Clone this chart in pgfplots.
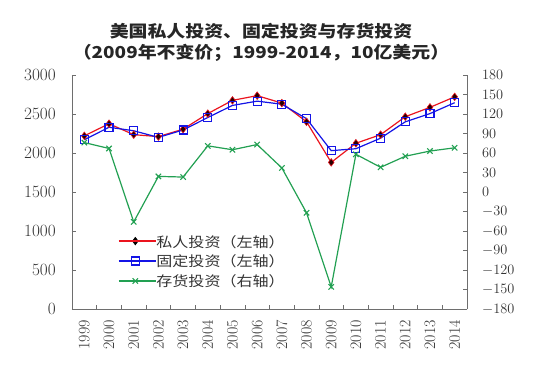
\documentclass[border=0pt]{standalone}
\usepackage{pgfplots}
\pgfplotsset{compat=1.18}
\usepackage{fontspec}
\newfontfamily\cjk{Noto Sans CJK SC}[FakeStretch=1.15]
\definecolor{cred}{RGB}{235,20,30}
\definecolor{cblue}{RGB}{20,20,230}
\definecolor{cgreen}{RGB}{34,160,82}
\definecolor{axgray}{RGB}{110,110,110}
\pgfplotstableread{
x red blue green
0 2220 2170 76
1 2375 2330 67
2 2235 2285 -46
3 2210 2200 24
4 2305 2295 23
5 2505 2455 71
6 2675 2610 65
7 2735 2665 73
8 2640 2625 37
9 2400 2440 -32
10 1880 2030 -146
11 2125 2055 58
12 2235 2190 38
13 2465 2400 55
14 2585 2505 63
15 2720 2645 68
}\datatable
\begin{document}
\begin{tikzpicture}
\useasboundingbox (-72bp,-68bp) rectangle (479bp,309bp);
\pgfplotsset{
  common/.style={
    width=395bp, height=234bp, scale only axis,
    xmin=-0.5, xmax=15.5,
    axis line style={draw=axgray, line width=0.6bp},
    tick style={draw=axgray, line width=0.6bp},
    tick align=inside,
    major tick length=4bp, minor tick length=4bp,
    ticklabel style={font=\fontsize{16}{16}\selectfont, text=black!80},
    clip=false,
  }
}
\begin{axis}[common,
  axis x line*=bottom, axis y line*=left,
  ymin=0, ymax=3000, ytick={0,500,...,3000},
  yticklabel style={inner sep=0pt},
  yticklabel shift=16bp,
  xtick={0,...,15},
  xticklabels={1999,2000,2001,2002,2003,2004,2005,2006,2007,2008,2009,2010,2011,2012,2013,2014},
  major x tick style={draw=none},
  minor xtick={0.5,1.5,...,14.5},
  xticklabel style={rotate=90, anchor=east, inner sep=0pt},
  xticklabel shift=11bp,
  scaled y ticks=false,
  y tick label style={/pgf/number format/1000 sep={}},
]
\addplot[cred, line width=1.2bp, mark=diamond*, mark size=3.8bp,
  mark options={draw=cred, fill=black!85!red, line width=0.6bp}] table[x=x,y=red]{\datatable};
\addplot[cblue, line width=1.2bp, mark=square, mark size=4bp,
  mark options={draw=cblue, line width=1.1bp}] table[x=x,y=blue]{\datatable};
\end{axis}
\begin{axis}[common,
  axis x line=none, axis y line*=right,
  ymin=-180, ymax=180, ytick={-180,-150,...,180},
  yticklabel style={inner sep=0pt, anchor=west, font=\fontsize{15}{15}\selectfont},
  yticklabel shift=15bp,
  legend style={at={(0.1165,0.205)}, anchor=west, draw=none, fill=none,
    inner sep=0pt, row sep=8bp,
    font=\cjk\fontsize{14}{14}\selectfont, text=black!80,
    nodes={inner sep=0pt, text depth=0pt}},
  legend cell align=left,
  legend image code/.code={
    \draw[#1, mark=none] (0bp,0bp) -- (33bp,0bp);
    \draw[#1] plot coordinates {(16.5bp,0bp)};
    \path (0bp,0bp) -- (37bp,0bp);
  },
]
\addlegendimage{cred, line width=1.2bp, mark=diamond*, mark size=3.8bp,
  mark options={draw=black, fill=black, line width=0.6bp}}
\addlegendentry{私人投资（左轴）}
\addlegendimage{cblue, line width=1.2bp, mark=square, mark size=4bp,
  mark options={draw=cblue, line width=1.1bp}}
\addlegendentry{固定投资（左轴）}
\addplot[cgreen, line width=1.2bp, mark=x, mark size=3.8bp,
  mark options={line width=1.1bp}] table[x=x,y=green]{\datatable};
\addlegendentry{存货投资（右轴）}
\end{axis}
\node[font=\cjk\bfseries\fontsize{16.5}{17}\selectfont, text=black!85] at (189bp,278bp) {美国私人投资、固定投资与存货投资};
\node[font=\cjk\bfseries\fontsize{16.5}{17}\selectfont, text=black!85] at (189bp,256bp) {（2009年不变价；1999-2014，10亿美元）};
\end{tikzpicture}
\end{document}
